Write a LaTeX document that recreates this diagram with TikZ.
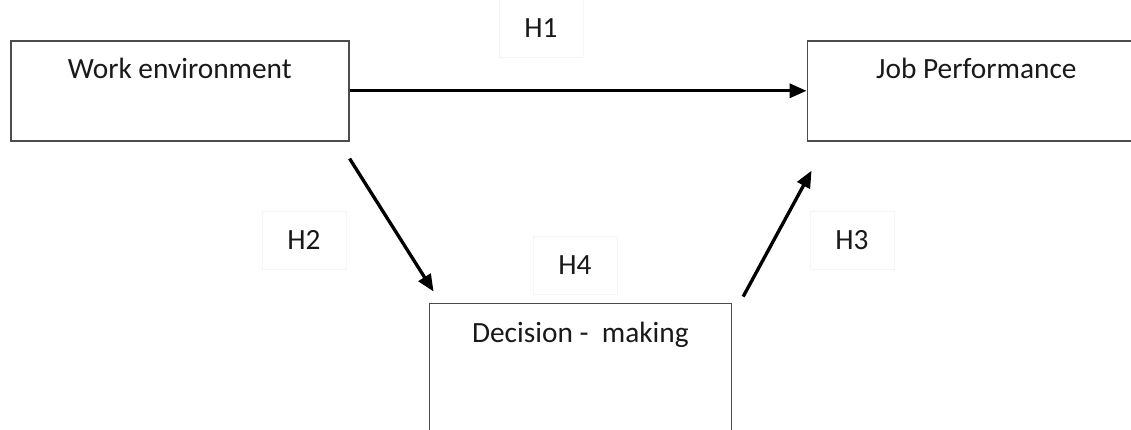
\documentclass[tikz,border=0pt]{standalone}
\usepackage{fontspec}
\setmainfont{Carlito}
\usepackage{tikz}
\usetikzlibrary{arrows.meta, positioning, calc}

\begin{document}
\begin{tikzpicture}[
    box/.style={
        rectangle, draw=black!70, line width=0.9pt, inner sep=0pt,
        text height=0.76cm, text depth=1.24cm, minimum width=6.76cm,
        font=\fontsize{16.7}{20}\selectfont, text=black!90
    },
    hlabel/.style={
        rectangle, draw=black!4, line width=0.5pt, minimum width=1.68cm, minimum height=1.16cm,
        font=\fontsize{16.7}{20}\selectfont, text=black!90
    },
    arrow/.style={-{Triangle[length=0.34cm, width=0.28cm]}, line width=1.9pt, draw=black}
]
\useasboundingbox (0,0) rectangle (22.62,-8.6);

% Independent variable
\node[box, anchor=north west] (work) at (0.2,-0.8) {Work environment};

% Dependent variable
\node[box, right=9.14cm of work] (job) {Job Performance};

% Mediator
\node[box, below right=3.22cm and 1.58cm of work.south east, anchor=north west,
      minimum width=6.04cm, text height=0.78cm, text depth=2.6cm] (dec) {Decision -\ \ making};

% Hypotheses
\node[hlabel] (h1) at (10.82,-0.56) {H1};
\node[hlabel] (h2) at (6.08,-4.8) {H2};
\node[hlabel] (h4) at (11.5,-5.3) {H4};
\node[hlabel] (h3) at (17.04,-4.8) {H3};

% Paths
\draw[arrow] (work.east) -- (job.west);
\draw[arrow] ([yshift=-0.34cm]work.south east) -- ([shift={(0.1,0.22)}]dec.north west);
\draw[arrow] ([shift={(0.22,0.12)}]dec.north east) -- ([shift={(0.1,-0.58)}]job.south west);

\end{tikzpicture}
\end{document}
